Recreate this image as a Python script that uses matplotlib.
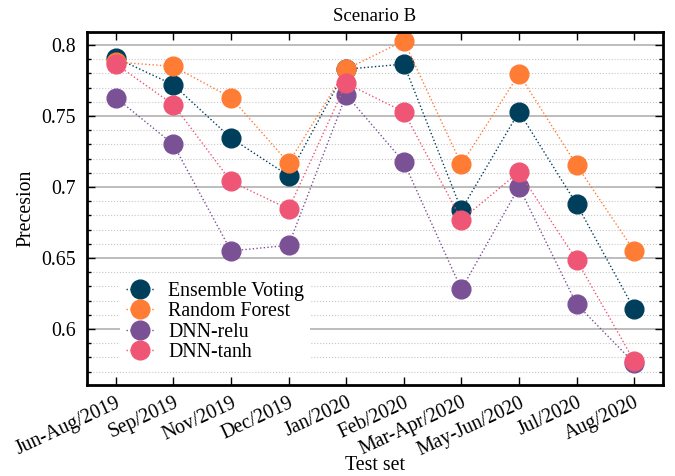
import matplotlib
matplotlib.use("Agg")
import matplotlib.pyplot as plt
from matplotlib.ticker import MultipleLocator

plt.rcParams['font.family'] = ['Liberation Serif', 'DejaVu Serif']
plt.rcParams['mathtext.fontset'] = 'stix'

categories = ["Jun-Aug/2019", "Sep/2019", "Nov/2019", "Dec/2019", "Jan/2020",
              "Feb/2020", "Mar-Apr/2020", "May-Jun/2020", "Jul/2020", "Aug/2020"]
ensemble = [0.791, 0.772, 0.7345, 0.708, 0.783, 0.7866, 0.684, 0.753, 0.688, 0.614]
random_forest = [0.788, 0.785, 0.763, 0.717, 0.783, 0.803, 0.716, 0.7796, 0.7155, 0.655]
dnn_relu = [0.763, 0.730, 0.655, 0.659, 0.765, 0.7176, 0.628, 0.700, 0.6176, 0.576]
dnn_tanh = [0.7866, 0.758, 0.704, 0.6845, 0.773, 0.753, 0.677, 0.7106, 0.6486, 0.5775]

series = [("Ensemble Voting", ensemble, "#003f5c"),
          ("Random Forest", random_forest, "#ff7c34"),
          ("DNN-relu", dnn_relu, "#7a5195"),
          ("DNN-tanh", dnn_tanh, "#ef5675")]

fig = plt.figure(figsize=(6.75, 4.76), dpi=100)
ax = fig.add_axes([87/675, 1 - 385/476, (663-87)/675, (385-32)/476])

x = list(range(len(categories)))
for name, vals, col in series:
    ax.plot(x, vals, linestyle=':', linewidth=1.0, color=col, marker='o',
            markersize=13.5, label=name)

ax.set_xlim(-0.5, 9.5)
ax.set_ylim(0.5606, 0.8092)
ax.set_xticks(x)
ax.set_xticklabels(categories, rotation=25, ha='right', rotation_mode='anchor', fontsize=14.3)
ax.yaxis.set_minor_locator(MultipleLocator(0.01))
ax.set_yticks([0.6, 0.65, 0.7, 0.75, 0.8])
ax.set_yticklabels(["0.6", "0.65", "0.7", "0.75", "0.8"], fontsize=14.3)
ax.grid(True, which='major', axis='y', color='#b8b8b8', linewidth=1.3, linestyle='-')
ax.grid(True, which='minor', axis='y', color='#c8c8c8', linewidth=0.8, linestyle=':')
ax.set_axisbelow(True)
ax.tick_params(which='both', direction='in', top=True, right=True, length=6, width=1.0)
ax.tick_params(which='minor', length=3)
ax.tick_params(axis='x', pad=6)
ax.tick_params(axis='y', pad=8)
for s in ax.spines.values():
    s.set_linewidth(2)

ax.set_title("Scenario B", fontsize=13.5, pad=8)
ax.set_xlabel("Test set", fontsize=14.3, labelpad=0)
ax.xaxis.set_label_coords(0.5, -0.2)
ax.set_ylabel("Precesion", fontsize=14.3)

leg = ax.legend(loc='upper left', bbox_to_anchor=(0.058, 0.31), fontsize=14.3,
                frameon=True, facecolor='white', edgecolor='none', framealpha=1,
                handlelength=1.4, labelspacing=0.08, borderpad=0.3, handletextpad=0.7,
                borderaxespad=0)

fig.savefig("out.png", dpi=100)
